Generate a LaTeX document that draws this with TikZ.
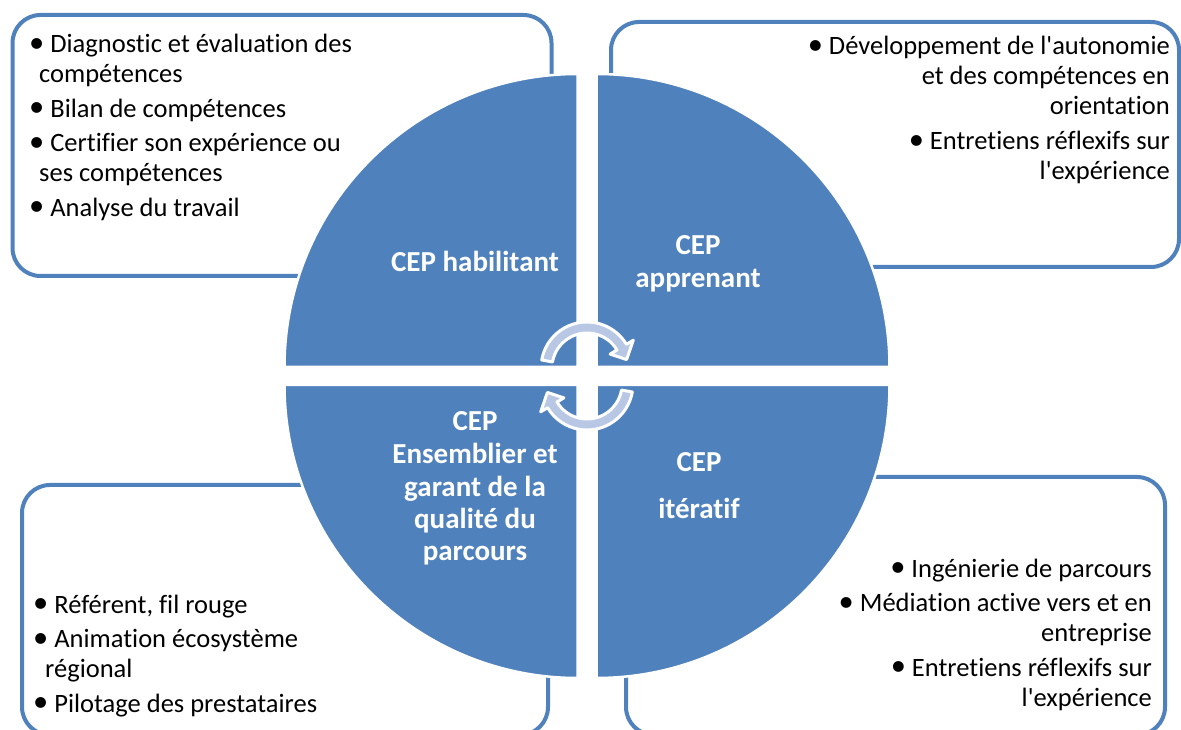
\documentclass[tikz,border=0pt]{standalone}
\usepackage{fontspec}
\newfontfamily\calib{Carlito}[Ligatures={NoCommon}]
\definecolor{qblue}{RGB}{79,129,189}
\definecolor{arrfill}{RGB}{184,199,228}
\newcommand{\bul}{\raisebox{0.5pt}{\scalebox{1.15}{•}}\ }
\begin{document}
\begin{tikzpicture}[x=1pt,y=1pt,
  box/.style={draw=qblue, line width=4pt, rounded corners=28pt, fill=white},
  quad/.style={fill=qblue, draw=white, line width=2.5pt},
  title/.style={text=white, font=\calib\bfseries\fontsize{29}{32.5}\selectfont, inner sep=0pt, anchor=base},
  body/.style={font=\calib\fontsize{26.5}{30}\selectfont, inner sep=0pt},
  cyc/.style={fill=arrfill, draw=white, line width=3pt, line join=round}]
\useasboundingbox (0,0) rectangle (1181,729);
% boxes
\draw[box] (12.5,714) rectangle (551.5,453);
\draw[box] (611,707) rectangle (1179,462);
\draw[box] (22,244) rectangle (548,-6);
\draw[box] (626,252) rectangle (1165,-6);
% quadrants
\draw[quad] (577.5,362) -- (284.5,362) arc[start angle=180, end angle=90, radius=293] -- cycle;
\draw[quad] (596.5,362) -- (596.5,655) arc[start angle=90, end angle=0, radius=293] -- cycle;
\draw[quad] (577.5,344) -- (284.5,344) arc[start angle=180, end angle=270, radius=293] -- cycle;
\draw[quad] (596.5,344) -- (889.5,344) arc[start angle=0, end angle=-90, radius=293] -- cycle;
% titles
\node[title] (t1) at (475,457) {\parbox[t]{250pt}{\centering CEP habilitant}};
\node[title] (t2) at (698,474) {\parbox[t]{250pt}{\centering CEP\\apprenant}};
\node[title] (t3) at (475,298) {\parbox[t]{250pt}{\centering CEP\\Ensemblier et\\garant de la\\qualité du\\parcours}};
\node[title] (t4) at (699,257) {\parbox[t]{250pt}{\centering CEP\\[13.5pt]itératif}};
% bodies
\node[body, anchor=base west] (b1) at (29,676) {\parbox[t]{520pt}{\raggedright
\bul Diagnostic et évaluation des\\\hspace*{10pt}compétences\\[4.5pt]
\bul Bilan de compétences\\[4.5pt]
\bul Certifier son expérience ou\\\hspace*{10pt}ses compétences\\[4.5pt]
\bul Analyse du travail}};
\node[body, anchor=base east] (b2) at (1170,674) {\parbox[t]{540pt}{\raggedleft
\bul Développement de l'autonomie\\et des compétences en\\orientation\\[5pt]
\bul Entretiens réflexifs sur\\l'expérience}};
\node[body, anchor=base west] (b3) at (33,116) {\parbox[t]{500pt}{\raggedright
\bul Référent, fil rouge\\[4.5pt]
\bul Animation écosystème\\\hspace*{12pt}régional\\[4.5pt]
\bul Pilotage des prestataires}};
\node[body, anchor=base east] (b4) at (1152,152) {\parbox[t]{520pt}{\raggedleft
\bul Ingénierie de parcours\\[4.5pt]
\bul Médiation active vers et en\\entreprise\\[4.5pt]
\bul Entretiens réflexifs sur\\l'expérience}};
% circular arrows
\coordinate (cu) at (587,361);
\coordinate (cl) at (587,345);
\draw[cyc] ([shift={(cu)}]170:46) arc[start angle=170, end angle=31, radius=46]
  -- ([shift={(cu)}]31:54) -- ([shift={(cu)}]12:40.5) -- ([shift={(cu)}]31:27)
  -- ([shift={(cu)}]31:35) arc[start angle=31, end angle=170, radius=35] -- cycle;
\draw[cyc] ([shift={(cl)}]-10:46) arc[start angle=-10, end angle=-149, radius=46]
  -- ([shift={(cl)}]-149:54) -- ([shift={(cl)}]-168:40.5) -- ([shift={(cl)}]-149:27)
  -- ([shift={(cl)}]-149:35) arc[start angle=-149, end angle=-10, radius=35] -- cycle;
\end{tikzpicture}
\end{document}
